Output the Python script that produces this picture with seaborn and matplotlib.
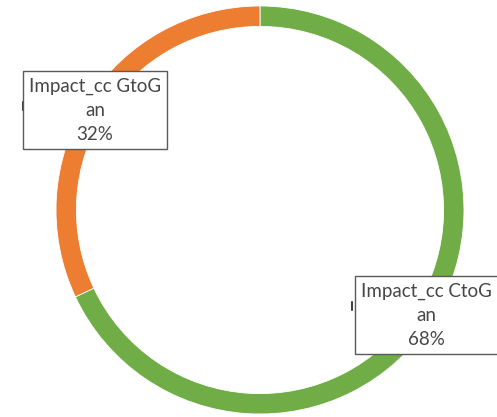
import matplotlib
matplotlib.use("Agg")
import matplotlib.pyplot as plt
import seaborn as sns

# data
categories = ["Impact_cc CtoG\nan", "Impact_cc GtoG\nan"]
shares = [68, 32]
colors = ["#70AD47", "#ED7D31"]

sns.set_theme(style="white")
plt.rcParams["font.family"] = ["Lato", "DejaVu Sans"]

fig = plt.figure(figsize=(4.97, 4.17), dpi=100)
ax = fig.add_axes([0, 0, 1, 1])

wedges, _ = ax.pie(shares, colors=colors, startangle=90, counterclock=False,
                   radius=1.0, wedgeprops=dict(width=0.1, edgecolor="white", linewidth=0.6))

ax.set_xlim(-1.2745, 1.1618)
ax.set_ylim(-1.0147, 1.0294)
ax.set_aspect("auto")
ax.axis("off")

label_pos = [(0.818, -0.515), (-0.809, 0.490)]
for cat, val, (lx, ly) in zip(categories, shares, label_pos):
    ax.text(lx, ly, f"{cat}\n{val}%", ha="center", va="center",
            fontsize=13.5, fontweight="normal", color="#474747", linespacing=1.5,
            bbox=dict(boxstyle="square,pad=0.32", facecolor="white",
                      edgecolor="#595959", linewidth=1))

# little leader stubs on the left edge of the boxes
ax.plot([-1.161, -1.161], [0.529, 0.490], color="#404040", lw=1.5)
ax.plot([0.451, 0.451], [-0.451, -0.490], color="#404040", lw=1.5)

fig.savefig("out.png", dpi=100)
